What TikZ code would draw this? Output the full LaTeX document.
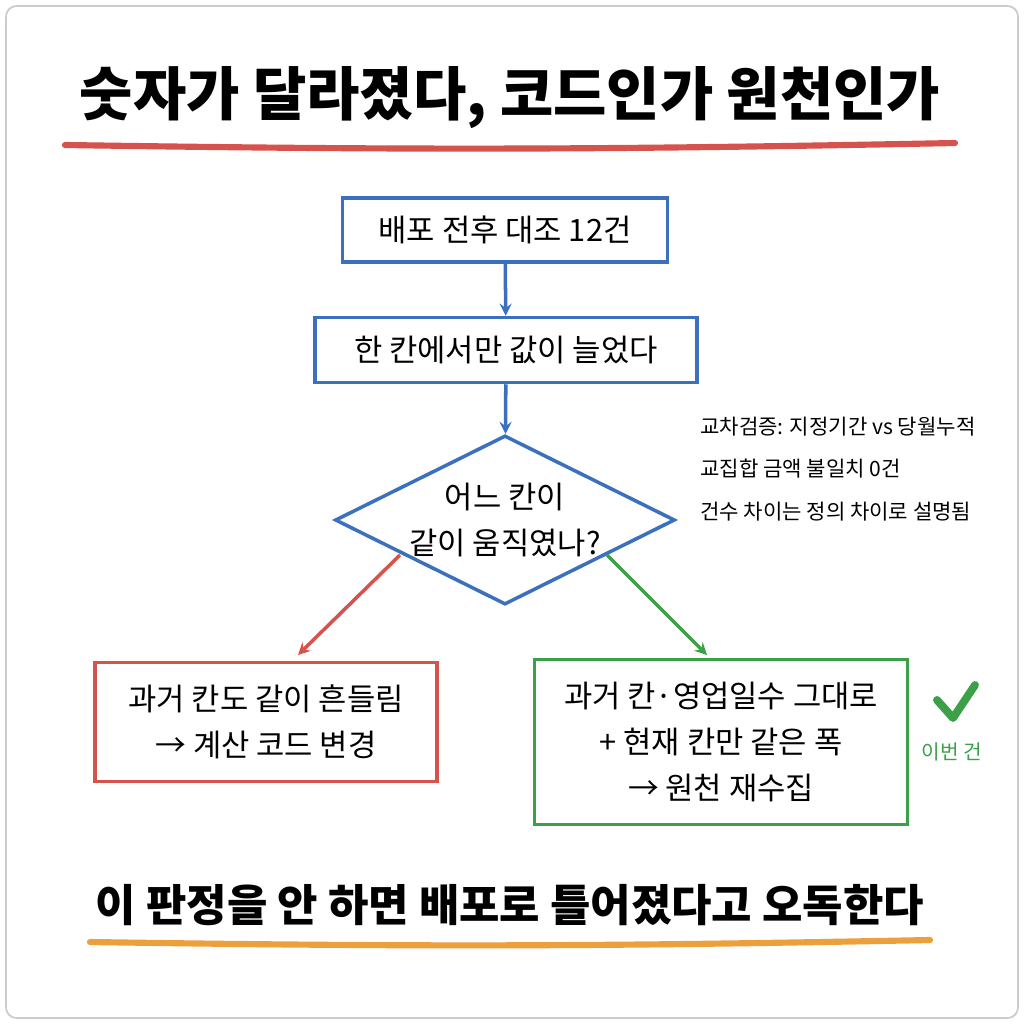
\documentclass[tikz,border=0pt]{standalone}
\usepackage{fontspec}
\setmainfont{Noto Sans CJK KR}
\usetikzlibrary{shapes.geometric,positioning}
\definecolor{BoxBlue}{RGB}{58,112,190}
\definecolor{BoxRed}{RGB}{214,82,76}
\definecolor{BoxGreen}{RGB}{60,160,72}
\definecolor{LineOrange}{RGB}{236,160,60}
\begin{document}
\begin{tikzpicture}[x=0.02cm,y=-0.02cm,>=stealth,
  box/.style={draw,line width=2pt,align=center,font=\fontsize{17.5}{26}\selectfont,inner sep=0pt},
  note/.style={anchor=west,font=\fontsize{12}{14}\selectfont}]
  \useasboundingbox (0,0) rectangle (1024,1024);
  \draw[gray!40,rounded corners=6pt,line width=1pt] (6,6) rectangle (1018,1018);

  \node (title) at (510,98) {\fontsize{33}{38}\selectfont\bfseries 숫자가 달라졌다, 코드인가 원천인가};
  \draw[BoxRed,line width=3.5pt,line cap=round] (65,145) to[bend right=1] (955,143);

  \node[box,BoxBlue,minimum width=6.5cm,minimum height=1.28cm] (start) at (505,230)
    {\color{black}배포 전후 대조 12건};
  \node[box,BoxBlue,minimum width=7.64cm,minimum height=1.3cm] (only) at (506,350)
    {\color{black}한 칸에서만 값이 늘었다};
  \node[box,BoxBlue,diamond,aspect=2,minimum width=6.8cm,minimum height=3.32cm] (which) at (505,520)
    {\color{black}어느 칸이\\\color{black}같이 움직였나?};

  \node[note] (n1) at (694,427) {교차검증: 지정기간 vs 당월누적};
  \node[note] (n2) at (694,469) {교집합 금액 불일치 0건};
  \node[note] (n3) at (694,512) {건수 차이는 정의 차이로 설명됨};

  \node[box,BoxRed,minimum width=6.84cm,minimum height=2.38cm] (code) at (266,722)
    {\color{black}과거 칸도 같이 흔들림\\\color{black}→ 계산 코드 변경};
  \node[box,BoxGreen,minimum width=7.46cm,minimum height=3.3cm] (source) at (721,742)
    {\color{black}과거 칸·영업일수 그대로\\\color{black}+ 현재 칸만 같은 폭\\\color{black}→ 원천 재수집};

  \draw[->,BoxBlue,line width=2pt] (start) -- (only);
  \draw[->,BoxBlue,line width=2pt] (only) -- (which);
  \coordinate (redfrom) at (400,555);
  \coordinate (redto) at (298,655);
  \coordinate (greenfrom) at (607,555);
  \coordinate (greento) at (707,655);
  \draw[->,BoxRed,line width=2pt] (redfrom) -- (redto);
  \draw[->,BoxGreen,line width=2pt] (greenfrom) -- (greento);

  % check mark
  \coordinate (c1) at (937,700);
  \coordinate (c2) at (953,718);
  \coordinate (c3) at (975,685);
  \draw[BoxGreen,line width=4.5pt,line cap=round,line join=round] (c1) -- (c2) -- (c3);
  \node[BoxGreen,font=\fontsize{11.5}{13}\selectfont] (this) at (952,752) {이번 건};

  \node (bottom) at (510,905) {\fontsize{25}{30}\selectfont\bfseries 이 판정을 안 하면 배포로 틀어졌다고 오독한다};
  \draw[LineOrange,line width=3.5pt,line cap=round] (90,942) to[bend right=1] (930,940);
\end{tikzpicture}
\end{document}
